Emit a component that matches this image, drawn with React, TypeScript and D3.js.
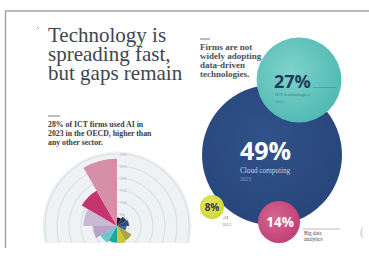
import React from "react";
import * as d3 from "d3";

// share of firms using AI in 2023, by sector (clockwise from 12 o'clock)
const sectors = [
  "Wholesale", "Retail", "Manufacturing", "Transport", "Construction", "Utilities",
  "Accommodation", "Real estate", "Admin services", "Professional services", "Media", "ICT",
];
const sectorValues = [3.5, 4.5, 5, 4, 7, 7.5, 7, 8, 10, 14, 17, 28];
const sectorColors = [
  "#1c1f2e", "#26365a", "#2f4d7e", "#4a6690", "#a9a640", "#c9c83e",
  "#1da79d", "#6cc6c6", "#b8a2c8", "#cbb8d4", "#c4346f", "#d590a8",
];
const radialTicks = [5, 10, 15, 20, 25, 30];

// adoption of data-driven technologies
const techNames = ["Cloud computing", "ICT technologies", "AI", "Big data analytics"];
const techValues = [49, 27, 8, 14];
const techYears = ["2023", "2023", "2023", ""];

const W = 369;
const H = 260;

export default function App() {
  // polar chart
  const cx = 117;
  const cy = 226;
  const r = d3.scaleLinear().domain([0, 30]).range([0, 72]);
  const step = (2 * Math.PI) / sectors.length;
  const arc = d3.arc<number>()
    .innerRadius(0)
    .outerRadius((d) => r(d))
    .startAngle((_, i) => i * step)
    .endAngle((_, i) => (i + 1) * step);

  // bubbles
  const size = d3.scaleLinear().domain([0, 49]).range([0, 70]);
  const spots = [
    { x: 272, y: 155 },
    { x: 299, y: 80 },
    { x: 212, y: 207 },
    { x: 279, y: 222 },
  ];
  const fills = ["url(#gNavy)", "url(#gTeal)", "url(#gYellow)", "url(#gPink)"];
  const sizeBoost = [1, 1.1, 1.05, 1.05];

  const serif = "'Liberation Serif', 'DejaVu Serif', serif";
  const sans = "'Open Sans', 'Noto Sans', sans-serif";

  return (
    <svg width={W} height={H} style={{ position: "absolute", left: 0, top: 0, background: "#fff" }}>
      <defs>
        <clipPath id="polarClip">
          <rect x={0} y={0} width={W} height={243} />
        </clipPath>
        <radialGradient id="gNavy" cx="45%" cy="40%" r="65%">
          <stop offset="0%" stopColor="#30528a" />
          <stop offset="100%" stopColor="#26457a" />
        </radialGradient>
        <radialGradient id="gTeal" cx="40%" cy="40%" r="65%">
          <stop offset="0%" stopColor="#7ed3cb" />
          <stop offset="100%" stopColor="#4fb9b3" />
        </radialGradient>
        <radialGradient id="gYellow" cx="40%" cy="40%" r="65%">
          <stop offset="0%" stopColor="#e6ea5a" />
          <stop offset="100%" stopColor="#cfd633" />
        </radialGradient>
        <radialGradient id="gPink" cx="40%" cy="40%" r="65%">
          <stop offset="0%" stopColor="#d6668f" />
          <stop offset="100%" stopColor="#c03f74" />
        </radialGradient>
      </defs>

      {/* page frame */}
      <line x1={5} x2={W} y1={11} y2={11} stroke="#a3a3a3" strokeWidth={1.5} />
      <line x1={5.5} x2={5.5} y1={11} y2={248} stroke="#a3a3a3" strokeWidth={1.5} />

      {/* left block */}
      <line x1={37} x2={39} y1={27} y2={29} stroke="#888" strokeWidth={0.8} />
      <text fontFamily={serif} fontSize={21} fill="#40464f">
        <tspan x={48} y={42}>Technology is</tspan>
        <tspan x={48} y={61}>spreading fast,</tspan>
        <tspan x={48} y={80}>but gaps remain</tspan>
      </text>
      <line x1={48} x2={60} y1={116} y2={116} stroke="#555" strokeWidth={0.8} />
      <text fontFamily={serif} fontSize={7.8} fontWeight="bold" fill="#3a3a3a">
        <tspan x={48} y={127}>28% of ICT firms used AI in</tspan>
        <tspan x={48} y={136}>2023 in the OECD, higher than</tspan>
        <tspan x={48} y={145}>any other sector.</tspan>
      </text>

      {/* polar chart */}
      <g clipPath="url(#polarClip)">
        <g transform={`translate(${cx},${cy})`}>
          <circle r={r(31)} fill="#eef2f4" />
          {radialTicks.map((t) => (
            <circle key={t} r={r(t)} fill="none" stroke="#d9e0e4" strokeWidth={1.2} />
          ))}
          {sectorValues.map((v, i) => (
            <path key={sectors[i]} d={arc(v, i) as string} fill={sectorColors[i]} />
          ))}
          {radialTicks.map((t) => (
            <text key={t} x={3} y={-r(t) + 2} fontFamily={sans} fontSize={3.5} fill="#a9b2b8">
              {t}%
            </text>
          ))}
        </g>
      </g>

      {/* right block */}
      <line x1={200} x2={210} y1={39} y2={39} stroke="#555" strokeWidth={0.8} />
      <text fontFamily={serif} fontSize={9} fontWeight="bold" fill="#4a4f5a">
        <tspan x={200} y={50}>Firms are not</tspan>
        <tspan x={200} y={59}>widely adopting</tspan>
        <tspan x={200} y={68}>data-driven</tspan>
        <tspan x={200} y={77}>technologies.</tspan>
      </text>

      {techValues.map((v, i) => (
        <circle key={techNames[i]} cx={spots[i].x} cy={spots[i].y} r={size(v) * sizeBoost[i]} fill={fills[i]} />
      ))}

      {/* cloud computing */}
      <text x={240} y={160} fontFamily={sans} fontSize={25} fontWeight="bold" fill="#fff">
        {techValues[0]}%
      </text>
      <text x={240} y={173} fontFamily={serif} fontSize={7.2} fill="#c3cee2">{techNames[0]}</text>
      <text x={240} y={181} fontFamily={serif} fontSize={5.5} fill="#8b9cbc">{techYears[0]}</text>

      {/* ICT technologies */}
      <text x={274} y={88} fontFamily={sans} fontSize={18} fontWeight="bold" fill="#1f3c5c">
        {techValues[1]}%
      </text>
      <line x1={313} x2={336} y1={87.5} y2={87.5} stroke="#3f8584" strokeWidth={0.5} />
      <text x={275} y={96} fontFamily={serif} fontSize={5} fill="#347a7c">{techNames[1]}</text>
      <text x={275} y={103} fontFamily={serif} fontSize={4.5} fill="#4f9392">{techYears[1]}</text>

      {/* AI */}
      <text x={212} y={210.5} textAnchor="middle" fontFamily={sans} fontSize={10} fontWeight="bold" fill="#2a3a52">
        {techValues[2]}%
      </text>
      <text x={223} y={219} fontFamily={serif} fontSize={5} fill="#555">{techNames[2]}</text>
      <text x={222} y={226} fontFamily={serif} fontSize={4.5} fill="#888">{techYears[2]}</text>

      {/* big data */}
      <text x={280} y={227} textAnchor="middle" fontFamily={sans} fontSize={13.5} fontWeight="bold" fill="#fff">
        {techValues[3]}%
      </text>
      <line x1={303} x2={340} y1={229} y2={229} stroke="#777" strokeWidth={0.5} />
      <text fontFamily={serif} fontSize={5.2} fill="#444">
        <tspan x={304} y={234.5}>Big data</tspan>
        <tspan x={304} y={240.5}>analytics</tspan>
      </text>

      <text x={360} y={236} fontFamily={serif} fontSize={12} fill="#c6c6c6">(</text>
    </svg>
  );
}
